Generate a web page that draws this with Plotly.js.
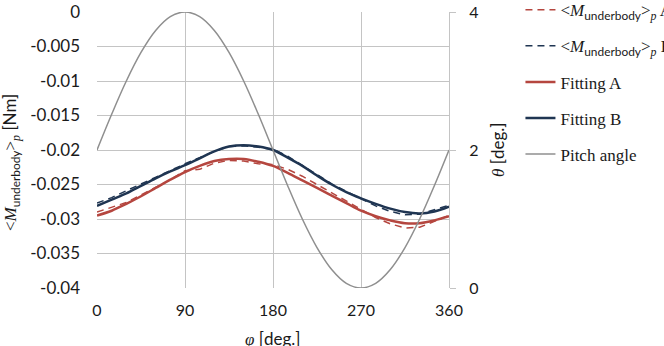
<!DOCTYPE html>
<html>
<head>
<meta charset="utf-8">
<script src="https://cdn.plot.ly/plotly-3.0.1.min.js"></script>
<style>html,body{margin:0;padding:0;background:#fff;}#chart{width:664px;height:346px;}</style>
</head>
<body>
<div id="chart"></div>
<script>
const phi = [0,15,30,45,60,75,90,105,120,135,150,165,180,195,210,225,240,255,270,285,300,315,330,345,360];
const dataA = [-0.0290,-0.0283,-0.0276,-0.0265,-0.0254,-0.0243,-0.0230,-0.0228,-0.0219,-0.0215,-0.0216,-0.0220,-0.0221,-0.0228,-0.0238,-0.0250,-0.0262,-0.0274,-0.0287,-0.0298,-0.0307,-0.0313,-0.0312,-0.0303,-0.0295];
const dataB = [-0.0277,-0.0269,-0.0259,-0.0249,-0.0240,-0.0230,-0.0220,-0.0211,-0.0202,-0.0195,-0.0194,-0.0196,-0.0199,-0.0209,-0.0222,-0.0236,-0.0249,-0.0260,-0.0271,-0.0281,-0.0289,-0.0294,-0.0293,-0.0287,-0.0280];
const fitA = [-0.0295,-0.0288,-0.0278,-0.0267,-0.0255,-0.0243,-0.0232,-0.0223,-0.0216,-0.0213,-0.0213,-0.0217,-0.0223,-0.0233,-0.0244,-0.0255,-0.0266,-0.0277,-0.0288,-0.0296,-0.0302,-0.0306,-0.0306,-0.0302,-0.0296];
const fitB = [-0.0281,-0.0272,-0.0263,-0.0252,-0.0241,-0.0231,-0.0222,-0.0212,-0.0202,-0.0195,-0.0193,-0.0195,-0.0200,-0.0211,-0.0223,-0.0237,-0.0250,-0.0261,-0.0270,-0.0278,-0.0285,-0.0290,-0.0292,-0.0289,-0.0282];
const pitch = [2,2.518,3,3.414,3.732,3.932,4,3.932,3.732,3.414,3,2.518,2,1.482,1,0.586,0.268,0.068,0,0.068,0.268,0.586,1,1.482,2];

const yTickVals = [0,-0.005,-0.01,-0.015,-0.02,-0.025,-0.03,-0.035,-0.04];
const yTickText = ['0','-0.005','-0.01','-0.015','-0.02','-0.025','-0.03','-0.035','-0.04'];
const xTickVals = [0,90,180,270,360];
const xTickText = ['0','90','180','270','360'];
const y2TickVals = [0,2,4];
const y2TickText = ['0','2','4'];

const SERIF = "'Liberation Serif','DejaVu Serif',serif";
const SANS = "Lato,'Open Sans',sans-serif";
const mLabel = (s) => "&lt;<i>M</i><sub><span style=\"font-family:Lato\">underbody</span></sub>&gt;<sub><i>p</i></sub> " + s;

const red = '#b5463f', navy = '#1f3552', gray = '#8f8f8f';

const traces = [
  {x: phi, y: dataA, name: mLabel('A'), mode: 'lines', line: {color: red, width: 1.5, dash: '7px,5px'}, legendgroup: 'a'},
  {x: phi, y: dataB, name: mLabel('B'), mode: 'lines', line: {color: navy, width: 1.5, dash: '7px,5px'}, legendgroup: 'b'},
  {x: phi, y: fitA, name: 'Fitting A', mode: 'lines', line: {color: red, width: 2.5, shape: 'spline'}, legendgroup: 'c'},
  {x: phi, y: fitB, name: 'Fitting B', mode: 'lines', line: {color: navy, width: 2.5, shape: 'spline'}, legendgroup: 'd'},
  {x: phi, y: pitch, name: 'Pitch angle', mode: 'lines', yaxis: 'y2', line: {color: gray, width: 1.5, shape: 'spline'}, legendgroup: 'e'}
];

const gridc = '#c4c4c4';
const layout = {
  width: 664, height: 346,
  margin: {l: 97, r: 215, t: 12, b: 58, autoexpand: false},
  paper_bgcolor: '#fff', plot_bgcolor: '#fff',
  font: {family: SANS, size: 16, color: '#1a1a1a'},
  showlegend: true,
  legend: {x: 1.203, xanchor: 'left', y: 1.072, yanchor: 'top', font: {family: SERIF, size: 17, color: '#1a1a1a'},
           tracegroupgap: 11, traceorder: 'grouped', bgcolor: 'rgba(0,0,0,0)'},
  xaxis: {range: [0, 360], tickvals: xTickVals, ticktext: xTickText, showgrid: true, gridcolor: gridc, gridwidth: 1,
          zeroline: false, showline: false, ticks: '', ticklabelstandoff: 11, tickfont: {family: SANS, size: 16}},
  yaxis: {range: [-0.04, 0], tickvals: yTickVals, ticktext: yTickText, showgrid: true, gridcolor: gridc, gridwidth: 1,
          zeroline: false, showline: false, ticks: '', ticklabelstandoff: 16, tickfont: {family: SANS, size: 17}},
  yaxis2: {range: [0, 4], overlaying: 'y', side: 'right', tickvals: y2TickVals, ticktext: y2TickText, showgrid: false,
           zeroline: false, showline: true, linecolor: gridc, ticks: 'outside', ticklen: 6, tickcolor: gridc,
           ticklabelstandoff: 10, tickfont: {family: SANS, size: 16}},
  annotations: [
    {xref: 'paper', yref: 'paper', x: (11 - 97) / 352, y: (288 - 163) / 276, xanchor: 'center', yanchor: 'middle', showarrow: false,
     textangle: -90, font: {family: SANS, size: 17, color: '#1a1a1a'},
     text: "<span style=\"font-family:'Liberation Serif'\">&lt;<i>M</i></span><sub>underbody</sub><span style=\"font-family:'Liberation Serif'\">&gt;<sub><i>p</i></sub></span> [Nm]"},
    {xref: 'paper', yref: 'paper', x: (497 - 97) / 352, y: 0.5, xanchor: 'center', yanchor: 'middle', showarrow: false,
     textangle: -90, font: {family: SANS, size: 17, color: '#1a1a1a'},
     text: "<span style=\"font-family:'Liberation Serif'\"><i>θ</i></span> [deg.]"},
    {xref: 'paper', yref: 'paper', x: 0.5, y: (288 - 338) / 276, xanchor: 'center', yanchor: 'middle', showarrow: false,
     font: {family: SANS, size: 17, color: '#1a1a1a'},
     text: "<span style=\"font-family:'Liberation Serif'\"><i>φ</i></span> [deg.]"}
  ]
};

Plotly.newPlot('chart', traces, layout, {displayModeBar: false, staticPlot: true});
</script>
</body>
</html>
